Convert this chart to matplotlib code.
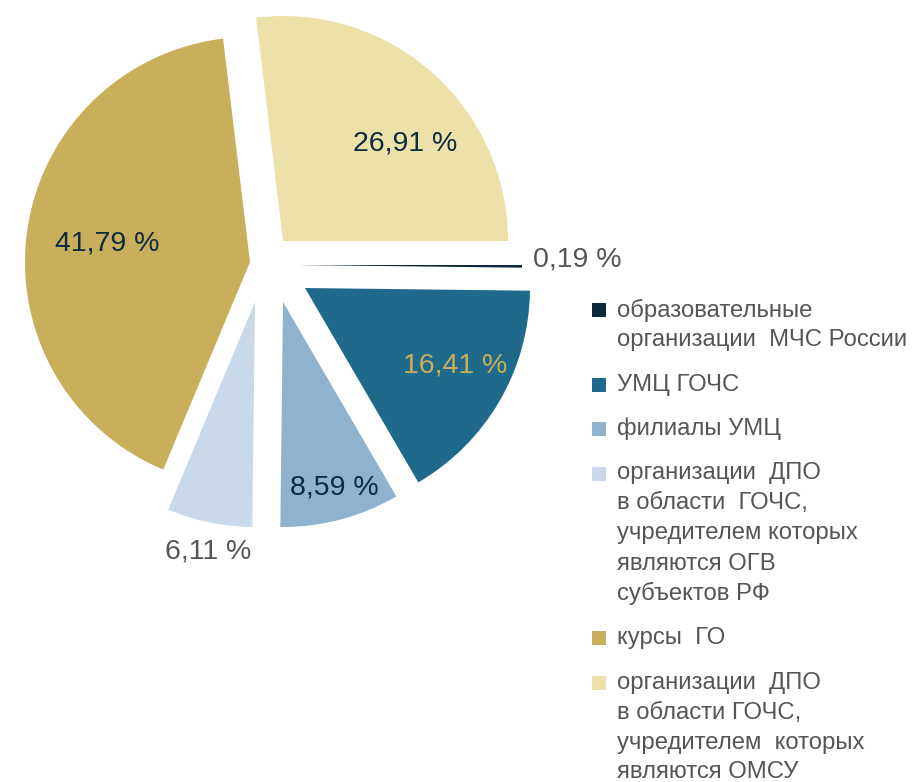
"""
Pie chart: distribution of trained persons by type of organisation
"""

import matplotlib.pyplot as plt

plt.rcParams['font.family'] = ['Liberation Sans', 'DejaVu Sans']

# data
shares = [0.19, 16.41, 8.59, 6.11, 41.79, 26.91]
share_labels = ['0,19 %', '16,41 %', '8,59 %', '6,11 %', '41,79 %', '26,91 %']
legend_labels = [
    'образовательные\nорганизации  МЧС России',
    'УМЦ ГОЧС',
    'филиалы УМЦ',
    'организации  ДПО\nв области  ГОЧС,\nучредителем которых\nявляются ОГВ\nсубъектов РФ',
    'курсы  ГО',
    'организации  ДПО\nв области ГОЧС,\nучредителем  которых\nявляются ОМСУ',
]
colors = ['#0b2a3c', '#1f6a8b', '#8fb2cf', '#c9d9ea', '#c9ae5c', '#ece2a9']

W, H = 916, 782
R = 225

# where each wedge tip sits (pixels, from top-left) - slices are pulled apart by hand
tips = [(297, 265), (305, 288), (283, 302), (255, 302), (250, 262), (283, 241)]
# label centres and colours
label_pos = [(577, 260), (455, 365), (334, 487), (208, 551), (107, 243), (405, 143)]
label_col = ['#555555', '#c9ae5c', '#0d2b3e', '#555555', '#0d2b3e', '#0d2b3e']

fig = plt.figure(figsize=(W / 100, H / 100), dpi=100)
ax = fig.add_axes([0, 0, 1, 1])

wedges, _ = ax.pie(shares, colors=colors, startangle=0, counterclock=False,
                   radius=R, center=(0, 0),
                   wedgeprops=dict(linewidth=0, antialiased=True))

for w, (tx, ty) in zip(wedges, tips):
    w.set_center((tx, H - ty))

for lab, (lx, ly), c in zip(share_labels, label_pos, label_col):
    ax.text(lx, H - ly, lab, ha='center', va='center', fontsize=20.5, color=c)

# legend drawn by hand
line_step = 30
item_gap = 44.5
y = 310
for lab, c in zip(legend_labels, colors):
    ax.scatter([599], [H - y], marker='s', s=95, color=c, linewidths=0)
    for i, line in enumerate(lab.split('\n')):
        ax.text(617, H - (y + i * line_step), line, ha='left', va='center',
                fontsize=17.2, color='#555555')
    y += (len(lab.split('\n')) - 1) * line_step + item_gap

ax.set_xlim(0, W)
ax.set_ylim(0, H)
ax.set_aspect('equal')
ax.axis('off')

plt.savefig('out.png', dpi=100)
